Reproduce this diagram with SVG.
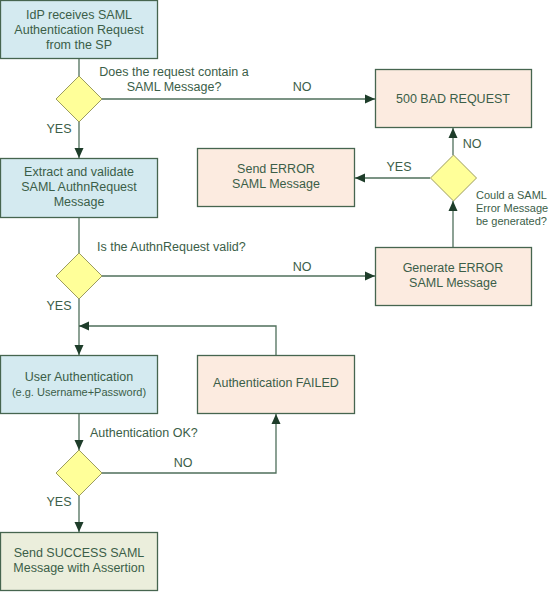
<svg xmlns="http://www.w3.org/2000/svg" width="549" height="592" viewBox="0 0 549 592">
<style>
text{font-family:"Liberation Sans",Arial,sans-serif;font-size:12.5px;fill:#3b5e48}
.c{text-anchor:middle}
.s{font-size:11px}
.box{stroke:#46654f;stroke-width:1.3}
.blue{fill:#d4eaf0}
.peach{fill:#fcebe0}
.green{fill:#ebeedc}
.dia{fill:#ffff99;stroke:#9c9c60;stroke-width:1}
.ln{fill:none;stroke:#4f6f5b;stroke-width:1.3}
</style>
<defs>
<marker id="ah" viewBox="0 0 10 10" refX="10" refY="5" markerWidth="10" markerHeight="10" markerUnits="userSpaceOnUse" orient="auto">
<path d="M0,0.5 L10,5 L0,9.5 Z" fill="#1e3d2a"/>
</marker>
</defs>
<g id="connectors">
<path class="ln" d="M79,59 V76"/>
<path class="ln" d="M79,122 V158" marker-end="url(#ah)"/>
<path class="ln" d="M102,99 H375" marker-end="url(#ah)"/>
<path class="ln" d="M79,218 V253"/>
<path class="ln" d="M102,276 H375" marker-end="url(#ah)"/>
<path class="ln" d="M453,247 V201" marker-end="url(#ah)"/>
<path class="ln" d="M453,155 V128" marker-end="url(#ah)"/>
<path class="ln" d="M430,178 H355" marker-end="url(#ah)"/>
<path class="ln" d="M79,299 V355" marker-end="url(#ah)"/>
<path class="ln" d="M276,355 V326 H79" marker-end="url(#ah)"/>
<path class="ln" d="M79,414 V450" marker-end="url(#ah)"/>
<path class="ln" d="M102,473 H276 V414" marker-end="url(#ah)"/>
<path class="ln" d="M79,496 V532" marker-end="url(#ah)"/>
<text class="c" x="174" y="76">Does the request contain a</text>
<text class="c" x="174" y="91">SAML Message?</text>
<text class="c" x="302" y="91">NO</text>
<text class="c" x="59" y="133">YES</text>
<text x="97" y="251">Is the AuthnRequest valid?</text>
<text class="c" x="302" y="271">NO</text>
<text class="c" x="59" y="310">YES</text>
<text class="c" x="472" y="148">NO</text>
<text class="c" x="399" y="171">YES</text>
<text class="s" x="476" y="199">Could a SAML</text>
<text class="s" x="476" y="212">Error Message</text>
<text class="s" x="476" y="225">be generated?</text>
<text x="90" y="437">Authentication OK?</text>
<text class="c" x="183" y="467">NO</text>
<text class="c" x="59" y="506">YES</text>
</g>
<g id="n1">
<rect class="box blue" x="0.5" y="0.5" width="157" height="58"/>
<text class="c" x="79" y="19">IdP receives SAML</text>
<text class="c" x="79" y="34">Authentication Request</text>
<text class="c" x="79" y="49">from the SP</text>
</g>
<g id="d1"><path class="dia" d="M79,76 L102,99 L79,122 L56,99 Z"/></g>
<g id="n2">
<rect class="box blue" x="0.5" y="158.5" width="157" height="59"/>
<text class="c" x="79" y="176">Extract and validate</text>
<text class="c" x="79" y="191">SAML AuthnRequest</text>
<text class="c" x="79" y="206">Message</text>
</g>
<g id="d2"><path class="dia" d="M79,253 L102,276 L79,299 L56,276 Z"/></g>
<g id="n3">
<rect class="box blue" x="0.5" y="355.5" width="157" height="58"/>
<text class="c" x="79" y="381">User Authentication</text>
<text class="c s" x="79" y="396">(e.g. Username+Password)</text>
</g>
<g id="d3"><path class="dia" d="M79,450 L102,473 L79,496 L56,473 Z"/></g>
<g id="n4">
<rect class="box green" x="0.5" y="532.5" width="157" height="58"/>
<text class="c" x="79" y="557">Send SUCCESS SAML</text>
<text class="c" x="79" y="572">Message with Assertion</text>
</g>
<g id="n5">
<rect class="box peach" x="375.5" y="69.5" width="156" height="58"/>
<text class="c" x="453" y="103">500 BAD REQUEST</text>
</g>
<g id="d4"><path class="dia" d="M453.5,155 L476.5,178 L453.5,201 L430.5,178 Z"/></g>
<g id="n6">
<rect class="box peach" x="197.5" y="148.5" width="157" height="58"/>
<text class="c" x="276" y="173">Send ERROR</text>
<text class="c" x="276" y="188">SAML Message</text>
</g>
<g id="n7">
<rect class="box peach" x="375.5" y="247.5" width="156" height="58"/>
<text class="c" x="453" y="272">Generate ERROR</text>
<text class="c" x="453" y="287">SAML Message</text>
</g>
<g id="n8">
<rect class="box peach" x="197.5" y="355.5" width="157" height="58"/>
<text class="c" x="276" y="387">Authentication FAILED</text>
</g>
</svg>
